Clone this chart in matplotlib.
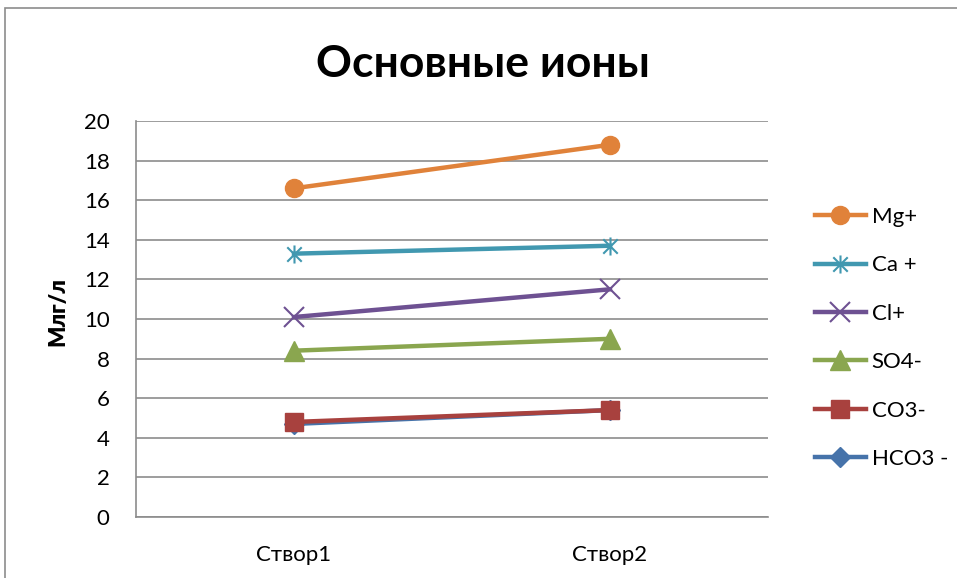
import numpy as np
import matplotlib
matplotlib.use("Agg")
import matplotlib.pyplot as plt
from matplotlib.path import Path
from matplotlib.patches import Rectangle

categories = ["Створ1", "Створ2"]
series_names = ["Mg+", "Ca +", "Cl+", "SO4-", "CO3-", "HCO3 -"]
mg = [16.6, 18.8]
ca = [13.3, 13.7]
cl = [10.1, 11.5]
so4 = [8.4, 9.0]
co3 = [4.8, 5.4]
hco3 = [4.7, 5.4]
y_ticks = list(range(0, 21, 2))

plt.rcParams["font.family"] = ["Lato", "DejaVu Sans"]

# excel-style asterisk: an x with a vertical bar through it
asterisk = Path(
    [(-1, -1), (1, 1), (-1, 1), (1, -1), (0, -1.25), (0, 1.25)],
    [Path.MOVETO, Path.LINETO, Path.MOVETO, Path.LINETO, Path.MOVETO, Path.LINETO],
)

styles = [
    (mg, "#E0823A", dict(marker="o", markersize=13)),
    (ca, "#4198B0", dict(marker=asterisk, markersize=13, markerfacecolor="none", markeredgewidth=1.5)),
    (cl, "#6E5192", dict(marker="x", markersize=14, markeredgewidth=1.5)),
    (so4, "#8AA64F", dict(marker="^", markersize=15)),
    (co3, "#A8413E", dict(marker="s", markersize=13)),
    (hco3, "#4673AA", dict(marker="D", markersize=10)),
]

fig = plt.figure(figsize=(9.57, 5.78), dpi=100)
W, H = 957, 578
ax = fig.add_axes([136 / W, (H - 517) / H, (768 - 136) / W, (517 - 121) / H])

x = np.arange(len(categories))
# draw HCO3 first so it sits under CO3 like the original
order = [5, 0, 1, 2, 3, 4]
handles = {}
for i in order:
    vals, col, mk = styles[i]
    (h,) = ax.plot(x, vals, color=col, linewidth=3.2, label=series_names[i],
                   markeredgecolor=col, **({"markerfacecolor": col} | mk), zorder=3)
    handles[i] = h

ax.set_xlim(-0.5, 1.5)
ax.set_ylim(0, 20)
ax.set_yticks(y_ticks)
ax.set_xticks(x)
ax.set_xticklabels(categories)
ax.tick_params(axis="both", length=0, labelsize=16)
ax.tick_params(axis="y", pad=19)
ax.tick_params(axis="x", pad=20)
ax.grid(axis="y", color="#8C8C8C", linewidth=1.2)
ax.set_axisbelow(True)
for s in ["top", "right"]:
    ax.spines[s].set_visible(False)
for s in ["left", "bottom"]:
    ax.spines[s].set_color("#8C8C8C")
    ax.spines[s].set_linewidth(1.2)
ax.set_ylabel("Млг/л", fontsize=16, fontweight="heavy")
ax.yaxis.set_label_coords((68 - 136) / (768 - 136), 0.52)

fig.text(483 / W, 1 - 64 / H, "Основные ионы", fontsize=32, fontweight="bold",
         ha="center", va="center")

leg = fig.legend([handles[i] for i in range(6)], series_names,
                 loc="upper left", bbox_to_anchor=(806 / W, 1 - 198 / H),
                 frameon=False, fontsize=16, handlelength=2.3, handletextpad=0.25,
                 labelspacing=1.28, borderaxespad=0)

# outer chart border
fig.patches.append(Rectangle((5 / W, -0.1), 1.2, 1.1 - 8 / H, transform=fig.transFigure,
                             fill=False, edgecolor="#8C8C8C", linewidth=1.2))

fig.savefig("out.png", dpi=100)
